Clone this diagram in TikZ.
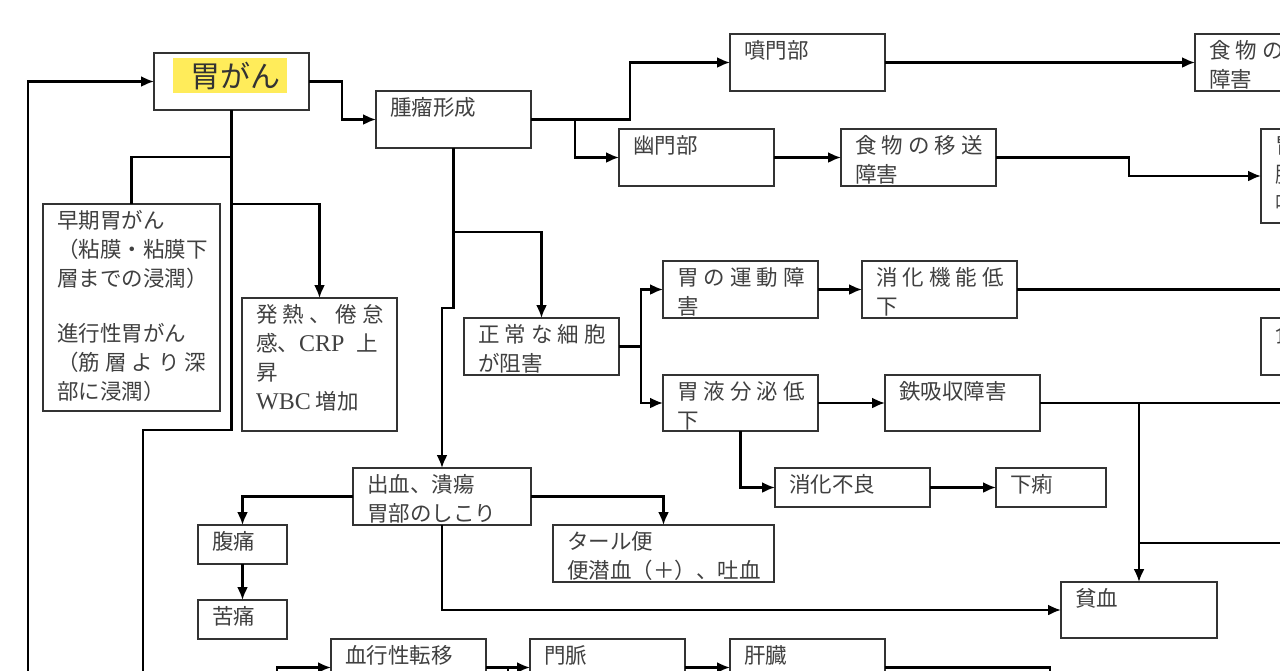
\documentclass[tikz,border=0pt]{standalone}
\usepackage{fontspec}
\setmainfont{Liberation Serif}
\newfontfamily\cjk{Noto Sans CJK JP}
\newfontfamily\latf{Liberation Serif}
\usetikzlibrary{arrows.meta,calc}
\definecolor{hl}{RGB}{255,236,90}
\newcommand\gsp{\hspace{5pt}}
\newcommand\lt[1]{{\latf\fontsize{24}{29}\selectfont #1}}
\newcommand\mybox[6]{%
  \node[box, minimum width=#4pt, minimum height=#5pt, anchor=north west] (#1) at (#2,#3) {};
  \node[txt, anchor=north west] at ([xshift=14pt,yshift=-6pt]#1.north west) {#6};}
\begin{document}
\begin{tikzpicture}[x=1pt,y=-1pt,
  box/.style={draw=black!80, line width=1.6pt, inner sep=0pt, outer sep=0pt, rectangle},
  txt/.style={font=\cjk\fontsize{21.5}{29}\selectfont, text=black!75, inner sep=0pt, align=left},
  arr/.style={line width=2.2pt, draw=black, -{Latex[length=13pt,width=11pt]}},
  ln/.style={line width=2.2pt, draw=black}]
\useasboundingbox (0,0) rectangle (1280,670);
\clip (0,0) rectangle (1280,670);
\fill[white] (0,0) rectangle (1280,670);

% highlight
\fill[hl] (173,58) rectangle (287,93);

\mybox{gan}{154}{53}{155}{57}{}
\node[font=\cjk\fontsize{30}{32}\selectfont, text=black!80, inner sep=0pt] (gantxt) at (235,76) {胃がん};
\mybox{shuryu}{376}{91}{155}{57}{腫瘤形成}
\mybox{funmon}{730}{34}{155}{57}{噴門部}
\mybox{shokuA}{1195}{34}{155}{57}{食\gsp 物\gsp の\gsp 移\gsp 送\\障害}
\mybox{yumon}{619}{129}{155}{57}{幽門部}
\mybox{shokuB}{841}{129}{155}{57}{食\gsp 物\gsp の\gsp 移\gsp 送\\障害}
\mybox{ibu}{1261}{129}{155}{94}{胃部不快感\\膨満感\\嘔吐}
\mybox{undo}{663}{261}{155}{57}{胃\gsp の\gsp 運\gsp 動\gsp 障\\害}
\mybox{shoka}{862}{261}{155}{57}{消\gsp 化\gsp 機\gsp 能\gsp 低\\下}
\mybox{shokuyoku}{1261}{318}{155}{57}{食欲不振}
\mybox{seijo}{464}{318}{155}{57}{正\gsp 常\gsp な\gsp 細\gsp 胞\\が阻害}
\mybox{ekibun}{663}{375}{155}{56}{胃\gsp 液\gsp 分\gsp 泌\gsp 低\\下}
\mybox{tetsu}{885}{375}{155}{56}{鉄吸収障害}
\mybox{soki}{43}{204}{177}{207}{早期胃がん\\（粘膜・粘膜下\\層までの浸潤）\\[26pt]進行性胃がん\\（筋\gsp 層\gsp よ\gsp り\gsp 深\\部に浸潤）}
\mybox{hatsu}{242}{298}{155}{133}{発\gsp 熱\gsp 、\gsp 倦\gsp 怠\\感、\lt{CRP}\hspace{12pt}上\\昇\\\lt{WBC} 増加}
\mybox{shukketsu}{353}{468}{178}{57}{出血、潰瘍\\胃部のしこり}
\mybox{shokafuryo}{775}{468}{155}{39}{消化不良}
\mybox{geri}{996}{468}{110}{39}{下痢}
\mybox{fukutsu}{198}{525}{89}{39}{腹痛}
\mybox{kutsu}{198}{600}{89}{39}{苦痛}
\mybox{tar}{553}{525}{221}{57}{タール便\\便潜血（＋）、吐血}
\mybox{hinketsu}{1061}{582}{156}{56}{貧血}
\mybox{ketsu}{331}{639}{155}{57}{血行性転移}
\mybox{monmyaku}{530}{639}{155}{57}{門脈}
\mybox{kanzo}{730}{639}{155}{57}{肝臓}

% free-end coordinates
\coordinate (L) at (28,700);
\coordinate (T) at (143,700);
\coordinate (B1) at (277,700);
\coordinate (B2) at (508,700);
\coordinate (B3) at (1050,700);
\coordinate (R1) at (1300,289.5);
\coordinate (R2) at (1300,403);
\coordinate (R3) at (1300,543);
\coordinate (J) at (1140,543);

% connectors
\draw[arr] (L) |- (gan.west);
\draw[arr] (gan.east) -- ++(33,0) |- (shuryu.west);
\draw[ln] (gan.south) -- ++(0,320) -| (T);
\draw[ln] (gan.south) ++(0,47) -| (soki.north);
\draw[arr] (gan.south) ++(0,94) -| (hatsu.north);

\draw[arr] (shuryu.east) -- ++(99,0) |- (funmon.west);
\draw[arr] (shuryu.east) -- ++(44,0) |- (yumon.west);
\draw[arr] (funmon.east) -- (shokuA.west);
\draw[arr] (yumon.east) -- (shokuB.west);
\draw[arr] (shokuB.east) -- ++(133,0) |- (ibu.west);

\draw[arr] (shuryu.south) -- ++(0,84) -| (seijo.north);
\draw[arr] (shuryu.south) -- ++(0,160) -| (shukketsu.north);

\draw[arr] (seijo.east) -- ++(22,0) |- (undo.west);
\draw[arr] (seijo.east) -- ++(22,0) |- (ekibun.west);
\draw[arr] (undo.east) -- (shoka.west);
\draw[ln] (shoka.east) -- (R1);
\draw[arr] (ekibun.east) -- (tetsu.west);
\draw[ln] (tetsu.east) -- (R2);
\draw[arr] (tetsu.east -| hinketsu.north) -- (hinketsu.north);
\draw[ln] (R3) -- (J);
\draw[arr] (ekibun.south) |- (shokafuryo.west);
\draw[arr] (shokafuryo.east) -- (geri.west);

\draw[arr] (shukketsu.west) -| (fukutsu.north);
\draw[arr] (shukketsu.east) -| (tar.north);
\draw[arr] (shukketsu.south) |- (hinketsu.west);
\draw[arr] (fukutsu.south) -- (kutsu.north);

\draw[arr] (B1) |- (ketsu.west);
\draw[arr] (ketsu.east) -- (monmyaku.west);
\draw[ln] (B2) -- (B2 |- ketsu.east);
\draw[arr] (monmyaku.east) -- (kanzo.west);
\draw[ln] (kanzo.east) -| (B3);
\end{tikzpicture}
\end{document}
